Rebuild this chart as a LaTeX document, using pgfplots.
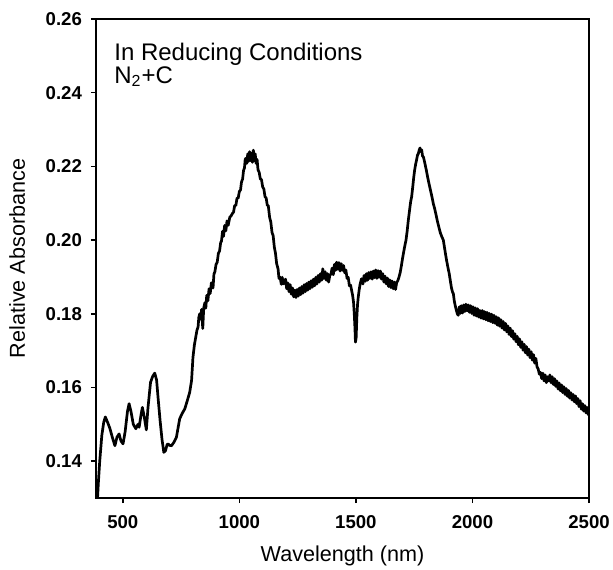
\documentclass[border=0pt]{standalone}
\usepackage{fontspec}
\setmainfont{Liberation Sans}
\usepackage{pgfplots}
\pgfplotsset{compat=1.18}
\begin{document}
\begin{tikzpicture}
\begin{axis}[
  scale only axis,
  width=246.5pt, height=239.5pt,
  xmin=385, xmax=2500,
  ymin=0.13, ymax=0.26,
  xtick={500,1000,1500,2000,2500},
  ytick={0.14,0.16,0.18,0.20,0.22,0.24,0.26},
  tick pos=left,
  tick align=outside,
  major tick length=2.5pt,
  axis line style={line width=0.75pt},
  every tick/.style={line width=0.75pt, black},
  /pgf/number format/assume math mode=true,
  yticklabel style={/pgf/number format/fixed, /pgf/number format/fixed zerofill, /pgf/number format/precision=2, xshift=-1pt},
  xticklabel style={/pgf/number format/1000 sep={}, yshift=-2.5pt},
  ticklabel style={font=\bfseries\fontsize{9.3}{11}\selectfont},
  xlabel={Wavelength (nm)},
  ylabel={Relative Absorbance},
  label style={font=\fontsize{10.8}{12}\selectfont},
  xlabel style={at={(axis description cs:0.5,-0.121)}, anchor=center},
  ylabel style={at={(axis description cs:-0.160,0.5)}, anchor=center},
  clip=true,
]
\addplot[black, line width=1.35pt, line join=round] coordinates {
(390,0.128) (395,0.134) (401,0.140) (410,0.147) (418,0.1505) (425,0.152) (435,0.1505) (444,0.149) (455,0.1465) (466,0.1442)
(475,0.1465) (484,0.1474) (492,0.1455) (501,0.1447) (510,0.148) (520,0.1535) (527,0.1556) (535,0.1535) (545,0.150) (556,0.1488)
(565,0.150) (570,0.1492) (578,0.1525) (584,0.1546) (592,0.152) (601,0.1485) (608,0.1545) (619,0.1614) (628,0.163) (637,0.1639)
(645,0.162) (651,0.1574) (660,0.151) (668,0.146) (676,0.1424) (683,0.1428) (690,0.1445) (694,0.1447) (700,0.1443) (709,0.1442)
(720,0.1452) (730,0.1465) (737,0.149) (744,0.1515) (755,0.153) (766,0.1542) (777,0.1565) (787,0.1587) (795,0.1619) (801,0.1682)
(807,0.1715) (813,0.1737) (818,0.1755) (823,0.1765) (826,0.1790) (830,0.1800) (834,0.1785) (838,0.1812) (843,0.1760) (847,0.1815)
(852,0.1830) (856,0.1815) (860,0.1850) (865,0.1835) (870,0.1868) (875,0.1855) (880,0.1884) (887,0.1870) (891,0.1908) (895,0.1914)
(900,0.1934) (905,0.1940) (910,0.1964) (915,0.1970) (920,0.1994) (923,0.1996) (928,0.2024) (932,0.2010) (937,0.2040) (942,0.2025)
(947,0.2052) (952,0.2040) (959,0.2062) (965,0.2066) (970,0.2072) (975,0.2076) (980,0.2094) (985,0.2094) (990,0.2114) (995,0.2114)
(1000,0.2132) (1005,0.2136) (1009,0.2157) (1014,0.2166) (1018,0.2189) (1022,0.2196) (1025,0.2219) (1028,0.2222) (1032,0.2208) (1036,0.2234)
(1040,0.2214) (1044,0.2240) (1048,0.2216) (1052,0.2236) (1056,0.2211) (1060,0.2244) (1064,0.2216) (1068,0.2234) (1072,0.2208) (1076,0.2219)
(1080,0.2191) (1085,0.2184) (1090,0.2166) (1095,0.2164) (1100,0.2144) (1105,0.2139) (1110,0.2118) (1115,0.2114) (1120,0.2094) (1124,0.2094)
(1130,0.2061) (1135,0.2049) (1140,0.2021) (1145,0.2012) (1150,0.1981) (1155,0.1964) (1160,0.1936) (1166,0.1922) (1170,0.1896) (1175,0.1899)
(1180,0.1880) (1184,0.1899) (1188,0.1881) (1193,0.1884) (1198,0.1894) (1203,0.1868) (1208,0.1884) (1213,0.1860) (1218,0.1879) (1223,0.1853)
(1228,0.1870) (1233,0.1846) (1238,0.1864) (1243,0.1844) (1248,0.1866) (1253,0.1848) (1258,0.1870) (1263,0.1852) (1268,0.1874) (1273,0.1856)
(1278,0.1879) (1283,0.1860) (1288,0.1882) (1293,0.1864) (1298,0.1886) (1303,0.1868) (1308,0.1890) (1313,0.1872) (1318,0.1894) (1323,0.1876)
(1328,0.1899) (1333,0.1881) (1338,0.1904) (1343,0.1886) (1348,0.1909) (1353,0.1891) (1358,0.1922) (1363,0.1896) (1368,0.1914) (1373,0.1891)
(1378,0.1909) (1383,0.1886) (1388,0.1904) (1393,0.1908) (1398,0.1924) (1403,0.1906) (1408,0.1934) (1413,0.1918) (1417,0.1940) (1422,0.1921)
(1427,0.1939) (1432,0.1916) (1437,0.1936) (1442,0.1918) (1447,0.1931) (1452,0.1911) (1457,0.1919) (1462,0.1896) (1467,0.1899) (1472,0.1876)
(1477,0.1878) (1482,0.1862) (1486,0.1850) (1490,0.1830) (1493,0.1800) (1496,0.1760) (1498,0.1723) (1501,0.1735) (1504,0.1790) (1507,0.1825)
(1510,0.1845) (1514,0.1865) (1518,0.1880) (1524,0.1895) (1530,0.1881) (1535,0.1904) (1540,0.1888) (1545,0.1909) (1550,0.1891) (1555,0.1912)
(1560,0.1896) (1565,0.1914) (1570,0.1894) (1575,0.1916) (1580,0.1898) (1585,0.1919) (1590,0.1896) (1595,0.1917) (1600,0.1899) (1605,0.1916)
(1610,0.1894) (1615,0.1909) (1620,0.1886) (1625,0.1902) (1630,0.1881) (1635,0.1897) (1640,0.1874) (1645,0.1892) (1650,0.1871) (1655,0.1889)
(1660,0.1868) (1665,0.1886) (1670,0.1866) (1675,0.1885) (1680,0.1890) (1685,0.1900) (1690,0.1912) (1695,0.1930) (1700,0.1950) (1705,0.1968)
(1710,0.1985) (1715,0.2000) (1720,0.2025) (1725,0.2055) (1730,0.2080) (1735,0.2105) (1739,0.2117) (1744,0.2145) (1748,0.2170) (1752,0.2190)
(1756,0.2205) (1760,0.2217) (1764,0.2230) (1768,0.2235) (1772,0.2245) (1775,0.2250) (1778,0.2240) (1782,0.2245) (1786,0.2228) (1790,0.2225)
(1796,0.2208) (1802,0.2190) (1808,0.2170) (1814,0.2152) (1820,0.2135) (1826,0.2118) (1832,0.2099) (1838,0.2085) (1844,0.2068) (1850,0.2050)
(1856,0.2035) (1862,0.2020) (1868,0.2010) (1875,0.2000) (1880,0.1980) (1885,0.1960) (1889,0.1945) (1895,0.1925) (1900,0.1910) (1905,0.1890)
(1910,0.1870) (1915,0.1858) (1918,0.1855) (1922,0.1835) (1926,0.1822) (1930,0.1812) (1935,0.1800) (1939,0.1796) (1944,0.1819) (1948,0.1801)
(1952,0.1822) (1957,0.1802) (1962,0.1824) (1967,0.1806) (1972,0.1826) (1977,0.1808) (1982,0.1824) (1987,0.1804) (1992,0.1822) (1997,0.1801)
(2002,0.1819) (2007,0.1796) (2012,0.1816) (2017,0.1794) (2022,0.1814) (2027,0.1791) (2032,0.1809) (2037,0.1788) (2042,0.1809) (2047,0.1786)
(2052,0.1806) (2057,0.1784) (2062,0.1804) (2067,0.1781) (2072,0.1801) (2077,0.1779) (2082,0.1799) (2087,0.1776) (2092,0.1796) (2097,0.1774)
(2102,0.1792) (2107,0.1769) (2112,0.1789) (2117,0.1766) (2122,0.1784) (2127,0.1761) (2132,0.1779) (2137,0.1756) (2142,0.1774) (2147,0.1751)
(2152,0.1767) (2157,0.1744) (2162,0.1761) (2167,0.1738) (2172,0.1754) (2177,0.1731) (2182,0.1746) (2187,0.1724) (2192,0.1739) (2197,0.1716)
(2202,0.1732) (2207,0.1709) (2212,0.1724) (2217,0.1701) (2222,0.1717) (2227,0.1694) (2232,0.1711) (2237,0.1688) (2242,0.1704) (2247,0.1681)
(2252,0.1697) (2257,0.1674) (2262,0.1689) (2267,0.1666) (2272,0.1679) (2277,0.1656) (2282,0.1650) (2287,0.1636) (2292,0.1641) (2297,0.1624)
(2302,0.1639) (2307,0.1618) (2312,0.1634) (2317,0.1613) (2322,0.1629) (2327,0.1618) (2332,0.1634) (2337,0.1613) (2342,0.1629) (2347,0.1608)
(2352,0.1624) (2357,0.1603) (2362,0.1618) (2367,0.1596) (2372,0.1612) (2377,0.1591) (2382,0.1607) (2387,0.1586) (2392,0.1602) (2397,0.1581)
(2402,0.1597) (2407,0.1576) (2412,0.1592) (2417,0.1571) (2422,0.1586) (2427,0.1566) (2432,0.1581) (2437,0.1561) (2442,0.1577) (2447,0.1556)
(2452,0.1570) (2457,0.1548) (2462,0.1564) (2467,0.1541) (2472,0.1556) (2477,0.1536) (2482,0.1551) (2487,0.1531) (2492,0.1546) (2497,0.1526)
(2500,0.1538)
};
\node[anchor=base west, font=\fontsize{12}{14}\selectfont, inner sep=0pt] at (rel axis cs:0.0365,0.914) {In Reducing Conditions};
\node[anchor=base west, font=\fontsize{12}{14}\selectfont, inner sep=0pt] at (rel axis cs:0.0365,0.866) {N\textsubscript{2}+C};
\end{axis}
\pgfresetboundingbox
\path[use as bounding box] (-48pt,-35.5pt) rectangle (258.5pt,249pt);
\end{tikzpicture}
\end{document}
